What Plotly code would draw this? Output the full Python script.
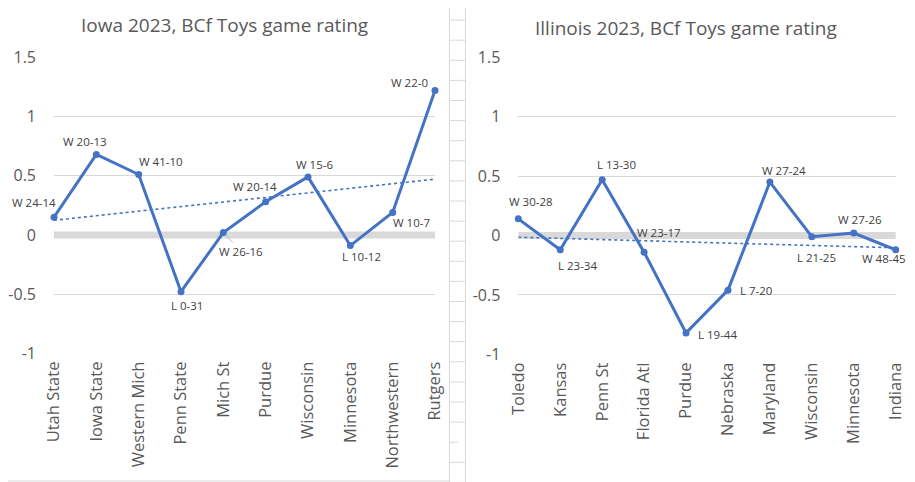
import numpy as np
import plotly.graph_objects as go

# the page body has an 8px margin; work in window pixels and convert
OFF = 8
WIN_W, WIN_H = 915, 482
W, H = WIN_W - OFF, WIN_H - OFF

iowa_opponents = ["Utah State", "Iowa State", "Western Mich", "Penn State", "Mich St",
                  "Purdue", "Wisconsin", "Minnesota", "Northwestern", "Rutgers"]
iowa_ratings = [0.15, 0.68, 0.51, -0.48, 0.02, 0.28, 0.49, -0.09, 0.19, 1.22]
iowa_results = ["W 24-14", "W 20-13", "W 41-10", "L 0-31", "W 26-16",
                "W 20-14", "W 15-6", "L 10-12", "W 10-7", "W 22-0"]

ill_opponents = ["Toledo", "Kansas", "Penn St", "Florida Atl", "Purdue",
                 "Nebraska", "Maryland", "Wisconsin", "Minnesota", "Indiana"]
ill_ratings = [0.14, -0.12, 0.47, -0.14, -0.82, -0.46, 0.45, -0.01, 0.02, -0.12]
ill_results = ["W 30-28", "L 23-34", "L 13-30", "W 23-17", "L 19-44",
               "L 7-20", "W 27-24", "L 21-25", "W 27-26", "W 48-45"]

y_tickvals = [-1, -0.5, 0, 0.5, 1, 1.5]
y_ticktext = ["-1", "-0.5", "0", "0.5", "1", "1.5"]

titles = ["Iowa 2023, BCf Toys game rating", "Illinois 2023, BCf Toys game rating"]

# label offsets in pixels (dx right, dy up)
iowa_offsets = [(-20, 15), (-11, 13), (22, 13), (6, -14), (18, -19),
                (-11, 15), (6, 12), (11, -11), (19, -10), (-26, 8)]
ill_offsets = [(13, 17), (17, -16), (14, 15), (15, 20), (31, -2),
               (28, 0), (14, 12), (5, -21), (6, 14), (-12, -9)]

BLUE = "#4472C4"
GRID = "#d9d9d9"
TXT = "#595959"
FONT = "Open Sans"


def px(x):
    return (x - OFF) / W


def py(y):
    return 1 - (y - OFF) / H


fig = go.Figure()

panels = [
    dict(cats=iowa_opponents, vals=iowa_ratings, labs=iowa_results, offs=iowa_offsets,
         xa="x", ya="y", dom_x=(54, 435), dom_y=(57.3, 353.3), title=titles[0], tpos=(224, 25)),
    dict(cats=ill_opponents, vals=ill_ratings, labs=ill_results, offs=ill_offsets,
         xa="x2", ya="y2", dom_x=(518.3, 895.7), dom_y=(57.3, 354.3), title=titles[1], tpos=(686, 28)),
]

annotations = []
shapes = []

for i, p in enumerate(panels):
    n = len(p["cats"])
    idx = np.arange(n)
    slope, icpt = np.polyfit(idx, np.array(p["vals"]), 1)
    trend = icpt + slope * idx

    # zero band
    shapes.append(dict(type="line", xref=p["xa"], yref=p["ya"], x0=0, x1=n - 1, y0=0, y1=0,
                       line=dict(color=GRID, width=7), layer="below"))

    fig.add_trace(go.Scatter(x=p["cats"], y=list(trend), mode="lines",
                             line=dict(color=BLUE, width=1.6, dash="dot"),
                             xaxis=p["xa"], yaxis=p["ya"], hoverinfo="skip", cliponaxis=False))
    fig.add_trace(go.Scatter(x=p["cats"], y=p["vals"], mode="lines+markers",
                             line=dict(color=BLUE, width=3), marker=dict(color=BLUE, size=7),
                             xaxis=p["xa"], yaxis=p["ya"], cliponaxis=False))

    for c, v, lab, (dx, dy) in zip(p["cats"], p["vals"], p["labs"], p["offs"]):
        annotations.append(dict(x=c, y=v, xref=p["xa"], yref=p["ya"], text=lab,
                                showarrow=False, xshift=dx, yshift=dy,
                                font=dict(family=FONT, size=11.5, color="#404040")))

    annotations.append(dict(x=px(p["tpos"][0]), y=py(p["tpos"][1]), xref="paper", yref="paper",
                            text=p["title"], showarrow=False, xanchor="center", yanchor="middle",
                            font=dict(family=FONT, size=19, color=TXT)))

    axis_x = dict(domain=[px(p["dom_x"][0]), px(p["dom_x"][1])], range=[0, n - 1],
                  showgrid=False, zeroline=False, showline=False, ticks="",
                  tickangle=-90, tickfont=dict(family=FONT, size=16.5, color=TXT),
                  ticklabelstandoff=4,
                  anchor=p["ya"], fixedrange=True, automargin=False)
    axis_y = dict(domain=[py(p["dom_y"][1]), py(p["dom_y"][0])], range=[-1, 1.5],
                  tickvals=y_tickvals, ticktext=y_ticktext, showgrid=True, gridcolor=GRID,
                  gridwidth=1, zeroline=False, showline=False, ticks="",
                  tickfont=dict(family=FONT, size=16, color=TXT), ticklabelstandoff=17,
                  anchor=p["xa"], fixedrange=True, automargin=False)
    if i == 0:
        fig.update_layout(xaxis=axis_x, yaxis=axis_y)
    else:
        fig.update_layout(xaxis2=axis_x, yaxis2=axis_y)

# spreadsheet backdrop: gap gridlines and chart frames
for k in range(1, 25):
    yy = k * 20.1
    for xa, xb in [(449.5, 465.5), (911, 915)]:
        shapes.append(dict(type="line", xref="paper", yref="paper", x0=px(xa), x1=px(xb),
                           y0=py(yy), y1=py(yy), line=dict(color=GRID, width=1,
                           dash="dash" if k == 22 else "solid"), layer="below"))
for xx in [449.5, 465.5, 911]:
    shapes.append(dict(type="line", xref="paper", yref="paper", x0=px(xx), x1=px(xx),
                       y0=0, y1=1, line=dict(color=GRID, width=1), layer="below"))
shapes.append(dict(type="line", xref="paper", yref="paper", x0=0, x1=px(449.5),
                   y0=py(481), y1=py(481), line=dict(color=GRID, width=1), layer="below"))

# leader line for W 26-16
annotations[4].update(showarrow=True, ax=18, ay=19, xshift=0, yshift=0, arrowhead=0,
                      arrowwidth=0.8, arrowcolor="#a6a6a6", standoff=3)

fig.update_layout(width=W, height=H, margin=dict(l=0, r=0, t=0, b=0, autoexpand=False),
                  paper_bgcolor="white", plot_bgcolor="white", showlegend=False,
                  annotations=annotations, shapes=shapes)

fig.write_html("out.html")
